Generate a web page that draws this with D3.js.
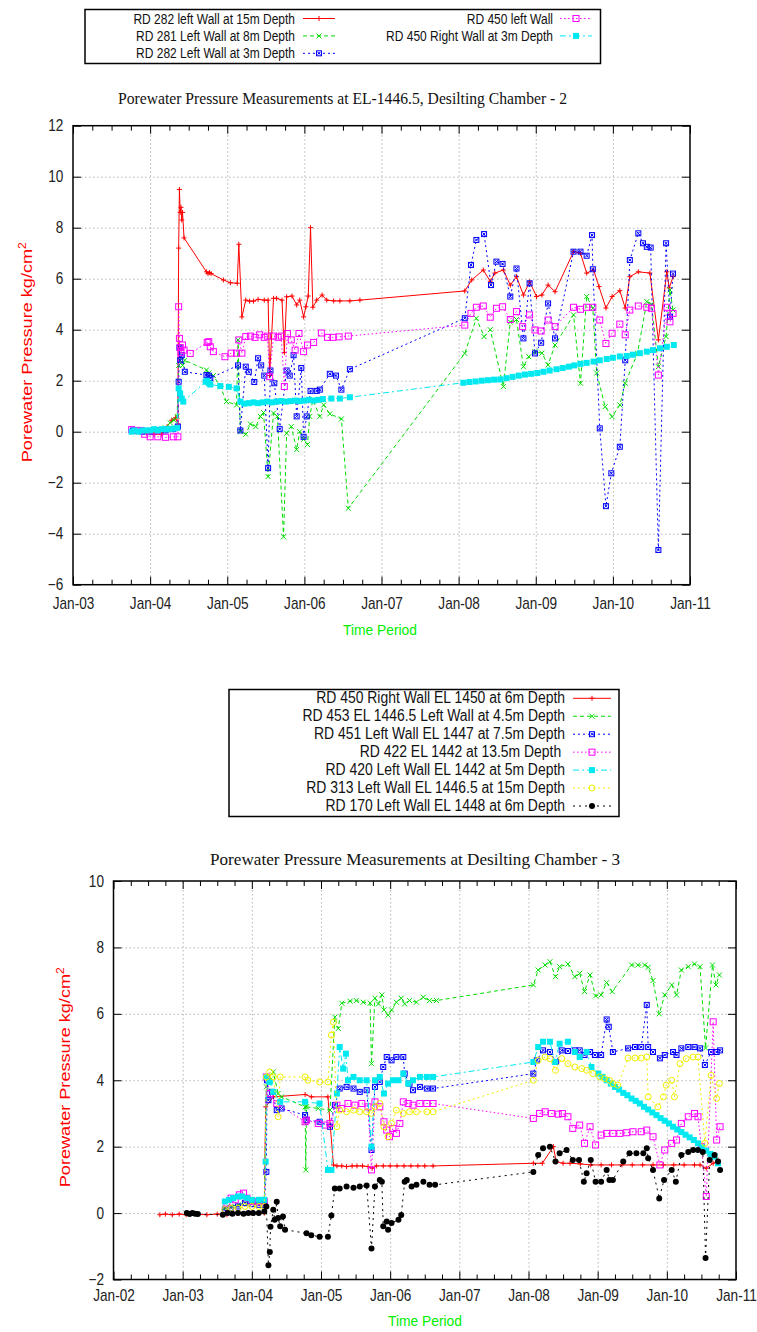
<!DOCTYPE html>
<html>
<head>
<meta charset="utf-8">
<script src="https://d3js.org/d3.v7.min.js"></script>
<style>
  body { margin: 0; background: #fff; }
  svg { display: block; }
</style>
</head>
<body>
<svg id="chart" width="757" height="1332"></svg>
<script>
// ---- Desilting Chamber 2 (EL-1446.5) : [decimal year, kg/cm2] ----
const c2Years = [2003, 2004, 2005, 2006, 2007, 2008, 2009, 2010, 2011];
const c2XLabels = ["Jan-03", "Jan-04", "Jan-05", "Jan-06", "Jan-07", "Jan-08", "Jan-09", "Jan-10", "Jan-11"];
const c2YTicks = [-6, -4, -2, 0, 2, 4, 6, 8, 10, 12];
const c2Names = ["RD 282 left Wall at 15m Depth", "RD 281 Left Wall at 8m Depth", "RD 282 Left Wall at 3m Depth",
  "RD 450 left Wall", "RD 450 Right Wall at 3m Depth"];

const c2_rd282_15m = [[2003.78,0.05],[2003.85,0],[2003.95,-0.05],[2004.05,-0.1],[2004.15,-0.1],[2004.22,0.2],[2004.28,0.45],[2004.33,0.55],[2004.36,0.3],
  [2004.37,7.2],[2004.38,9.5],[2004.39,8.6],[2004.40,8.8],[2004.41,8.3],[2004.42,8.6],[2004.44,7.6],
  [2004.73,6.27],[2004.75,6.2],[2004.77,6.24],[2004.79,6.2],[2004.95,5.95],[2005.04,5.84],[2005.13,5.82],[2005.15,7.35],[2005.19,4.5],
  [2005.24,5.16],[2005.29,5.12],[2005.34,5.12],[2005.40,5.19],[2005.48,5.16],[2005.53,5.16],[2005.55,2.2],[2005.60,5.23],[2005.64,5.23],
  [2005.71,5.16],[2005.74,3.1],[2005.77,5.29],[2005.84,5.32],[2005.90,4.97],[2005.94,5.16],[2005.99,4.5],[2006.02,4.9],[2006.05,5.32],
  [2006.08,8.0],[2006.11,4.88],[2006.16,5.16],[2006.23,5.36],[2006.29,5.16],[2006.38,5.13],[2006.46,5.13],[2006.59,5.13],[2006.72,5.16],
  [2008.08,5.52],[2008.17,5.95],[2008.32,6.34],[2008.41,5.9],[2008.47,6.22],[2008.58,6.34],[2008.67,5.75],[2008.75,6.08],[2008.84,5.36],
  [2008.92,5.88],[2009.01,5.3],[2009.08,5.36],[2009.16,5.75],[2009.25,5.49],[2009.49,7.06],[2009.58,7.0],[2009.66,6.22],[2009.75,6.34],
  [2009.82,5.69],[2009.91,4.85],[2009.99,5.3],[2010.09,5.53],[2010.16,4.85],[2010.22,6.08],[2010.33,6.27],[2010.48,6.22],[2010.59,3.6],
  [2010.70,6.27],[2010.73,5.64],[2010.78,6.08]];

const c2_rd281_8m = [[2003.78,0],[2003.9,0.05],[2004.0,0],[2004.1,0.05],[2004.2,0.15],[2004.26,0.35],[2004.31,0.45],[2004.35,0.6],
  [2004.37,2.6],[2004.39,2.8],[2004.42,2.6],[2004.45,2.8],[2004.73,2.42],[2004.76,2.3],[2004.82,2.2],[2004.91,1.76],[2004.99,1.18],
  [2005.12,1.05],[2005.14,3.6],[2005.17,0],[2005.24,-0.1],[2005.30,0.3],[2005.37,0.2],[2005.43,0.6],[2005.47,0.75],[2005.53,-1.76],
  [2005.60,0.73],[2005.65,0.6],[2005.73,-4.12],[2005.77,-0.06],[2005.83,0.2],[2005.90,-0.7],[2005.94,0],[2005.99,-0.3],[2006.04,-0.5],
  [2006.07,0.6],[2006.11,1.25],[2006.20,0.6],[2006.25,1.05],[2006.33,0.7],[2006.48,0.5],[2006.57,-3.0],
  [2008.08,3.07],[2008.23,4.45],[2008.33,3.73],[2008.41,4.0],[2008.58,1.77],[2008.67,4.3],[2008.75,4.4],[2008.84,2.55],[2008.91,2.94],
  [2008.99,3.14],[2009.08,3.08],[2009.16,2.62],[2009.25,3.4],[2009.49,4.58],[2009.58,1.9],[2009.66,5.3],[2009.74,4.84],[2009.79,2.3],
  [2009.90,0.98],[2009.99,0.59],[2010.09,1.05],[2010.16,1.9],[2010.32,3.08],[2010.44,5.1],[2010.50,5.0],[2010.59,2.55],[2010.69,3.73],
  [2010.74,5.56],[2010.78,4.77]];

const c2_rd282_3m = [[2003.78,0.05],[2003.9,0],[2004.0,0],[2004.1,0.05],[2004.2,0.05],[2004.3,0.1],[2004.36,0.2],
  [2004.37,1.96],[2004.38,3.3],[2004.39,2.8],[2004.41,3.0],[2004.45,2.35],[2004.73,2.22],[2004.76,2.2],[2004.78,2.1],[2005.14,2.6],
  [2005.17,0.05],[2005.24,2.55],[2005.28,2.35],[2005.35,1.95],[2005.40,2.88],[2005.44,2.6],[2005.48,2.2],[2005.53,-1.43],[2005.56,2.4],
  [2005.61,1.9],[2005.68,0.1],[2005.77,2.4],[2005.81,2.2],[2005.86,3.0],[2005.90,0.6],[2005.96,2.5],[2005.99,-0.2],[2006.03,0.6],
  [2006.08,1.6],[2006.16,1.6],[2006.20,1.65],[2006.33,2.27],[2006.41,2.2],[2006.48,1.65],[2006.59,2.45],
  [2008.08,4.45],[2008.16,6.54],[2008.23,7.52],[2008.33,7.75],[2008.42,5.75],[2008.49,6.67],[2008.57,6.58],[2008.67,5.3],[2008.75,6.4],
  [2008.84,3.66],[2008.92,5.82],[2008.99,3.07],[2009.07,3.49],[2009.16,5.03],[2009.25,3.66],[2009.49,7.06],[2009.58,7.06],[2009.66,6.9],
  [2009.73,7.71],[2009.74,6.37],[2009.83,0.13],[2009.91,-2.92],[2009.98,-1.63],[2010.09,-0.59],[2010.16,2.8],[2010.22,6.73],[2010.33,7.78],
  [2010.39,7.39],[2010.44,7.25],[2010.49,7.22],[2010.59,-4.64],[2010.69,7.39],[2010.74,4.51],[2010.78,6.2]];

const c2_rd450_left = [[2003.76,0.08],[2003.82,0.05],[2003.88,0.05],[2003.93,-0.1],[2004.0,-0.2],[2004.1,-0.2],[2004.2,-0.22],[2004.3,-0.2],[2004.36,-0.2],
  [2004.37,4.9],[2004.38,3.66],[2004.39,3.3],[2004.40,3.1],[2004.42,3.4],[2004.44,3.2],[2004.52,3.07],[2004.74,3.5],[2004.76,3.53],
  [2004.78,3.33],[2004.82,3.14],[2004.97,2.94],[2005.05,3.08],[2005.12,3.08],[2005.15,3.6],[2005.19,3.08],[2005.24,3.73],[2005.30,3.75],
  [2005.36,3.7],[2005.42,3.8],[2005.48,3.7],[2005.52,3.75],[2005.55,2.16],[2005.60,3.75],[2005.66,3.7],[2005.70,3.75],[2005.74,1.77],
  [2005.78,3.85],[2005.83,3.6],[2005.88,3.2],[2005.93,3.85],[2005.99,3.14],[2006.04,3.4],[2006.12,3.5],[2006.22,3.87],[2006.30,3.7],
  [2006.37,3.7],[2006.45,3.72],[2006.57,3.75],
  [2008.08,4.18],[2008.16,4.64],[2008.23,4.88],[2008.32,4.93],[2008.41,4.49],[2008.49,4.84],[2008.57,4.9],[2008.67,4.4],[2008.75,4.71],
  [2008.83,4.12],[2008.92,4.58],[2008.99,3.99],[2009.07,3.95],[2009.16,4.38],[2009.25,4.12],[2009.49,4.88],[2009.58,4.8],[2009.66,4.88],
  [2009.74,4.88],[2009.83,4.38],[2009.91,3.46],[2009.99,3.86],[2010.09,4.22],[2010.16,3.8],[2010.22,4.77],[2010.33,4.93],[2010.44,4.88],
  [2010.50,4.84],[2010.59,2.22],[2010.70,4.88],[2010.74,4.31],[2010.78,4.64]];

const c2_rd450_right3m = [[2003.76,0],[2003.80,0.05],[2003.85,0],[2003.90,0.05],[2003.95,0.05],[2004.0,0.05],[2004.05,0.1],[2004.1,0.05],
  [2004.15,0.1],[2004.2,0.1],[2004.25,0.1],[2004.3,0.12],[2004.35,0.15],
  [2004.37,1.7],[2004.39,1.5],[2004.41,1.3],[2004.43,1.18],[2004.72,1.96],[2004.74,2.0],[2004.76,1.9],[2004.78,1.85],[2004.91,1.79],
  [2005.02,1.76],[2005.12,1.7],[2005.17,1.18],[2005.22,1.1],[2005.28,1.12],[2005.34,1.15],[2005.40,1.12],[2005.46,1.15],[2005.52,1.18],
  [2005.58,1.15],[2005.64,1.18],[2005.70,1.2],[2005.76,1.18],[2005.82,1.2],[2005.88,1.22],[2005.94,1.2],[2006.0,1.22],[2006.06,1.25],
  [2006.12,1.22],[2006.18,1.25],[2006.24,1.28],[2006.35,1.3],[2006.46,1.3],[2006.59,1.35],
  [2008.06,1.92],[2008.14,1.95],[2008.22,1.97],[2008.30,2.0],[2008.38,2.02],[2008.46,2.04],[2008.54,2.05],[2008.62,2.1],[2008.70,2.15],
  [2008.78,2.2],[2008.86,2.24],[2008.94,2.27],[2009.02,2.3],[2009.10,2.35],[2009.18,2.4],[2009.27,2.45],[2009.35,2.5],[2009.43,2.55],
  [2009.50,2.6],[2009.58,2.66],[2009.66,2.7],[2009.75,2.75],[2009.83,2.8],[2009.92,2.85],[2010.0,2.9],[2010.09,2.95],[2010.18,2.97],
  [2010.26,3.02],[2010.35,3.08],[2010.44,3.14],[2010.52,3.2],[2010.61,3.27],[2010.70,3.33],[2010.79,3.4]];

// ---- Desilting Chamber 3 ----
const c3Years = [2002, 2003, 2004, 2005, 2006, 2007, 2008, 2009, 2010, 2011];
const c3XLabels = ["Jan-02", "Jan-03", "Jan-04", "Jan-05", "Jan-06", "Jan-07", "Jan-08", "Jan-09", "Jan-10", "Jan-11"];
const c3YTicks = [-2, 0, 2, 4, 6, 8, 10];
const c3Names = ["RD 450 Right Wall EL 1450 at 6m Depth", "RD 453 EL 1446.5 Left Wall at 4.5m Depth",
  "RD 451 Left Wall EL 1447 at 7.5m Depth", "RD 422 EL 1442 at 13.5m Depth\u00a0", "RD 420 Left Wall EL 1442 at 5m Depth",
  "RD 313 Left Wall EL 1446.5 at 15m Depth", "RD 170 Left Wall EL 1448 at 6m Depth"];

const c3_rd450 = [[2002.67,-0.05],[2002.75,-0.03],[2002.85,-0.05],[2002.95,-0.03],[2003.05,-0.05],[2003.2,-0.03],[2003.35,-0.05],[2003.5,-0.03],
  [2003.64,-0.05],[2003.8,0],[2004.0,0],[2004.18,0],
  [2004.20,3.2],[2004.31,3.5],[2004.77,3.57],[2004.86,3.5],[2005.10,3.5],[2005.18,1.45],[2005.23,1.42],[2005.3,1.42],[2005.37,1.4],
  [2005.45,1.42],[2005.52,1.42],[2005.6,1.42],[2005.68,1.4],[2005.74,1.35],[2005.8,1.42],[2005.9,1.42],[2006.0,1.42],[2006.1,1.42],
  [2006.2,1.42],[2006.3,1.42],[2006.4,1.42],[2006.5,1.42],[2006.62,1.42],
  [2008.07,1.5],[2008.2,1.5],[2008.36,2.0],[2008.40,1.55],[2008.5,1.5],[2008.6,1.5],[2008.75,1.48],[2008.9,1.45],[2009.05,1.45],
  [2009.2,1.45],[2009.35,1.45],[2009.5,1.45],[2009.65,1.45],[2009.8,1.45],[2009.95,1.45],[2010.1,1.45],[2010.25,1.45],[2010.4,1.45],
  [2010.48,1.45],[2010.57,1.35],[2010.67,1.5],[2010.74,1.6]];

const c3_rd453 = [[2003.61,0.15],[2003.7,0.2],[2003.8,0.25],[2003.9,0.3],[2004.0,0.3],[2004.1,0.3],[2004.18,0.35],
  [2004.21,3.8],[2004.26,4.0],[2004.31,4.25],[2004.38,3.6],[2004.43,3.5],[2004.77,3.2],[2004.78,1.3],[2004.79,3.2],[2004.96,3.15],
  [2005.13,3.1],[2005.20,5.9],[2005.25,5.56],[2005.30,6.32],[2005.42,6.38],[2005.51,6.4],[2005.61,6.35],[2005.71,6.32],[2005.73,4.5],
  [2005.78,6.47],[2005.83,6.3],[2005.88,6.57],[2005.91,6.12],[2005.97,5.96],[2006.02,6.12],[2006.09,6.35],[2006.16,6.47],[2006.21,6.3],
  [2006.28,6.4],[2006.38,6.35],[2006.48,6.5],[2006.57,6.4],[2006.67,6.4],
  [2008.07,6.87],[2008.14,7.32],[2008.24,7.47],[2008.31,7.57],[2008.39,7.12],[2008.45,7.42],[2008.57,7.5],[2008.67,7.12],[2008.74,7.22],
  [2008.81,6.67],[2008.89,7.17],[2008.97,6.54],[2009.05,6.57],[2009.13,6.94],[2009.21,6.67],[2009.49,7.47],[2009.58,7.47],[2009.68,7.47],
  [2009.73,7.4],[2009.80,7.0],[2009.89,6.0],[2009.97,6.57],[2010.07,6.87],[2010.14,6.57],[2010.21,7.32],[2010.31,7.42],[2010.40,7.5],
  [2010.48,7.42],[2010.56,4.97],[2010.66,7.47],[2010.71,6.87],[2010.76,7.17]];

const c3_rd451 = [[2003.61,0.1],[2003.7,0.15],[2003.8,0.2],[2003.9,0.3],[2004.0,0.27],[2004.1,0.25],[2004.18,0.25],
  [2004.21,1.24],[2004.22,4.0],[2004.24,3.4],[2004.29,3.65],[2004.36,3.1],[2004.43,3.15],[2004.77,2.95],[2004.79,2.8],[2004.98,2.75],
  [2005.13,2.6],[2005.20,3.25],[2005.27,3.75],[2005.37,3.8],[2005.47,3.75],[2005.56,3.65],[2005.66,3.7],[2005.73,1.9],[2005.78,3.8],
  [2005.85,3.95],[2005.90,4.4],[2005.95,4.7],[2006.02,4.6],[2006.09,4.7],[2006.19,4.7],[2006.21,4.2],[2006.28,3.9],[2006.33,3.7],
  [2006.43,3.8],[2006.53,3.75],[2006.62,3.75],
  [2008.07,4.2],[2008.12,4.6],[2008.21,4.9],[2008.31,4.85],[2008.40,4.55],[2008.48,4.9],[2008.57,4.88],[2008.67,4.9],[2008.74,4.9],
  [2008.81,4.76],[2008.89,4.85],[2008.96,4.76],[2009.05,4.76],[2009.13,5.83],[2009.16,5.61],[2009.22,4.85],[2009.44,4.96],[2009.54,5.0],
  [2009.63,5.0],[2009.71,6.27],[2009.73,5.0],[2009.80,4.85],[2009.90,4.66],[2009.97,4.76],[2010.09,4.85],[2010.14,4.76],[2010.21,4.96],
  [2010.31,5.0],[2010.40,5.0],[2010.48,4.96],[2010.55,4.46],[2010.64,4.85],[2010.72,4.85],[2010.77,4.9]];

const c3_rd422 = [[2003.64,0.3],[2003.7,0.45],[2003.76,0.4],[2003.82,0.55],[2003.88,0.6],[2003.93,0.45],[2004.0,0.35],[2004.1,0.35],[2004.18,0.35],
  [2004.21,4.1],[2004.26,3.6],[2004.36,3.3],[2004.77,2.75],[2004.79,2.8],[2004.96,2.7],[2005.06,2.65],[2005.13,2.7],[2005.23,3.25],
  [2005.30,3.15],[2005.39,3.3],[2005.49,3.25],[2005.59,3.3],[2005.68,3.2],[2005.73,1.3],[2005.78,3.35],[2005.85,3.2],[2005.91,2.75],
  [2005.95,2.5],[2005.99,2.3],[2006.04,2.55],[2006.09,2.4],[2006.14,2.7],[2006.19,3.35],[2006.26,3.3],[2006.33,3.25],[2006.43,3.3],
  [2006.53,3.3],[2006.62,3.3],
  [2008.07,2.85],[2008.16,3.0],[2008.24,3.05],[2008.33,3.0],[2008.43,2.98],[2008.49,3.0],[2008.57,2.9],[2008.64,2.55],[2008.74,2.65],
  [2008.81,2.1],[2008.89,2.6],[2008.97,2.05],[2009.05,2.35],[2009.13,2.4],[2009.22,2.4],[2009.32,2.4],[2009.42,2.42],[2009.51,2.45],
  [2009.63,2.45],[2009.71,2.5],[2009.80,2.3],[2009.90,1.45],[2009.97,1.9],[2010.07,2.1],[2010.14,2.2],[2010.21,2.7],[2010.31,2.9],
  [2010.40,3.0],[2010.45,2.9],[2010.50,2.0],[2010.57,0.5],[2010.67,5.76],[2010.72,2.2],[2010.77,2.6]];

const c3_rd420 = [[2003.61,0.35],[2003.67,0.4],[2003.73,0.45],[2003.8,0.5],[2003.86,0.5],[2003.93,0.45],[2004.0,0.4],[2004.1,0.4],[2004.18,0.4],
  [2004.20,1.55],[2004.21,4.1],[2004.26,3.95],[2004.31,3.65],[2004.41,3.35],[2004.77,3.35],[2004.98,3.3],[2005.10,1.3],[2005.15,1.3],
  [2005.23,3.6],[2005.27,5.0],[2005.32,4.35],[2005.36,4.8],[2005.39,4.0],[2005.47,4.1],[2005.56,4.0],[2005.66,4.0],[2005.73,2.0],
  [2005.78,4.0],[2005.85,4.1],[2005.91,3.6],[2005.97,3.9],[2006.04,4.0],[2006.12,4.0],[2006.19,4.2],[2006.26,3.9],[2006.33,4.0],
  [2006.43,4.1],[2006.53,4.1],[2006.62,4.1],
  [2008.07,4.55],[2008.14,5.0],[2008.21,5.16],[2008.31,5.16],[2008.38,4.55],[2008.45,5.1],[2008.57,5.16],[2008.67,4.85],[2008.74,4.7],
  [2008.84,4.85],[2008.91,4.4],[2009.01,4.2],[2009.07,4.1],[2009.13,4.0],[2009.19,3.9],[2009.25,3.8],[2009.31,3.72],[2009.37,3.62],
  [2009.43,3.55],[2009.49,3.45],[2009.55,3.38],[2009.61,3.3],[2009.67,3.2],[2009.73,3.12],[2009.79,3.03],[2009.85,2.95],[2009.91,2.86],
  [2009.97,2.78],[2010.03,2.7],[2010.09,2.6],[2010.15,2.52],[2010.21,2.44],[2010.27,2.36],[2010.33,2.28],[2010.39,2.2],[2010.45,2.1],
  [2010.51,1.98],[2010.57,1.88],[2010.63,1.78],[2010.69,1.7],[2010.74,1.5]];

const c3_rd313 = [[2003.61,0.1],[2003.7,0.15],[2003.8,0.15],[2003.9,0.2],[2004.0,0.2],[2004.1,0.2],[2004.18,0.2],
  [2004.21,4.1],[2004.26,4.25],[2004.31,4.1],[2004.38,2.9],[2004.41,4.1],[2004.77,4.1],[2004.81,4.0],[2004.98,3.95],[2005.10,3.95],
  [2005.15,5.36],[2005.18,5.75],[2005.23,2.6],[2005.27,3.1],[2005.37,3.05],[2005.47,3.1],[2005.56,3.05],[2005.66,3.05],[2005.73,3.0],
  [2005.78,3.2],[2005.85,3.3],[2005.91,2.6],[2005.97,2.3],[2006.02,2.7],[2006.09,3.1],[2006.19,3.0],[2006.28,3.05],[2006.38,3.05],
  [2006.53,3.05],[2006.62,3.05],
  [2008.07,4.0],[2008.14,4.6],[2008.24,4.7],[2008.31,4.65],[2008.39,4.3],[2008.48,4.65],[2008.57,4.5],[2008.67,4.4],[2008.77,4.35],
  [2008.84,4.3],[2008.93,4.2],[2009.03,4.1],[2009.10,4.05],[2009.17,4.0],[2009.22,3.9],[2009.29,3.85],[2009.44,4.67],[2009.54,4.67],
  [2009.63,4.67],[2009.71,4.7],[2009.73,3.5],[2009.87,3.2],[2009.95,3.5],[2009.99,3.85],[2010.07,4.0],[2010.11,3.5],[2010.19,4.5],
  [2010.28,4.65],[2010.38,4.7],[2010.45,4.7],[2010.55,2.1],[2010.64,4.15],[2010.72,3.45],[2010.76,3.9]];

const c3_rd170 = [[2003.06,0],[2003.1,-0.03],[2003.14,0],[2003.18,-0.02],[2003.22,-0.03],
  [2003.58,-0.05],[2003.65,0],[2003.72,-0.02],[2003.8,0],[2003.88,-0.02],[2003.95,0],[2004.02,0],[2004.1,0],[2004.18,0.05],
  [2004.21,0.2],[2004.24,-1.57],[2004.26,-1.17],[2004.27,-0.41],[2004.31,0.1],[2004.33,-0.2],[2004.36,0.34],[2004.38,-0.15],[2004.41,-0.4],
  [2004.45,-0.1],[2004.48,-0.5],[2004.79,-0.61],[2004.86,-0.67],[2004.98,-0.71],[2005.10,-0.71],[2005.15,-0.07],[2005.20,0.74],
  [2005.27,0.74],[2005.37,0.8],[2005.47,0.76],[2005.56,0.8],[2005.66,0.83],[2005.73,-1.07],[2005.78,0.8],[2005.85,1.0],[2005.88,0.94],
  [2005.90,-0.4],[2005.95,-0.25],[2005.97,-0.5],[2006.02,-0.3],[2006.12,-0.2],[2006.16,-0.06],[2006.21,0.94],[2006.24,1.0],[2006.31,0.8],
  [2006.38,0.85],[2006.48,0.94],[2006.57,0.85],[2006.65,0.85],
  [2008.07,1.24],[2008.14,1.75],[2008.21,1.95],[2008.31,2.0],[2008.39,1.55],[2008.45,1.8],[2008.55,1.9],[2008.64,1.6],[2008.73,1.6],
  [2008.80,0.94],[2008.84,1.2],[2008.90,1.6],[2008.97,0.94],[2009.05,0.94],[2009.13,1.3],[2009.17,1.0],[2009.22,1.0],[2009.37,1.55],
  [2009.46,1.8],[2009.56,1.8],[2009.66,1.8],[2009.71,1.95],[2009.73,1.65],[2009.80,1.3],[2009.89,0.44],[2009.96,1.0],[2010.07,1.3],
  [2010.13,0.94],[2010.21,1.75],[2010.31,1.84],[2010.38,1.9],[2010.45,1.9],[2010.52,1.84],[2010.56,-1.35],[2010.62,1.6],[2010.69,1.75],
  [2010.74,1.55],[2010.77,1.3]];

const sansFont = "'Liberation Sans', Arial, Helvetica, sans-serif";
const serifFont = "'Liberation Serif', 'Times New Roman', serif";
const svg = d3.select("#chart");
svg.append("rect").attr("width", 757).attr("height", 1332).attr("fill", "#fff");

// gnuplot-like line/point styles
const styles = [
  { color: "#ff0000", dash: null,        mark: "plus" },
  { color: "#00dd00", dash: "4,3",       mark: "cross" },
  { color: "#0000ff", dash: "2,3",       mark: "boxstar" },
  { color: "#ff00ff", dash: "1.5,2.5",   mark: "square" },
  { color: "#00e8f0", dash: "6,3,2,3",   mark: "fsquare" },
  { color: "#f0f000", dash: "2,3",       mark: "circle" },
  { color: "#000000", dash: "2,4",       mark: "fcircle" }
];

function drawMark(g, px, py, mark, color) {
  const s = 2.5;
  if (mark === "plus") {
    g.append("path").attr("d", `M${px - s},${py}H${px + s}M${px},${py - s}V${py + s}`).attr("stroke", color).attr("stroke-width", 1);
  } else if (mark === "cross") {
    g.append("path").attr("d", `M${px - s},${py - s}L${px + s},${py + s}M${px - s},${py + s}L${px + s},${py - s}`).attr("stroke", color).attr("stroke-width", 1);
  } else if (mark === "boxstar") {
    g.append("rect").attr("x", px - 2.5).attr("y", py - 2.5).attr("width", 5).attr("height", 5)
      .attr("fill", "none").attr("stroke", color).attr("stroke-width", 1);
    g.append("path").attr("d", `M${px - 1.5},${py - 1.5}L${px + 1.5},${py + 1.5}M${px - 1.5},${py + 1.5}L${px + 1.5},${py - 1.5}`).attr("stroke", color).attr("stroke-width", 1);
  } else if (mark === "square") {
    g.append("rect").attr("x", px - 3).attr("y", py - 3).attr("width", 6).attr("height", 6)
      .attr("fill", "none").attr("stroke", color).attr("stroke-width", 1);
  } else if (mark === "fsquare") {
    g.append("rect").attr("x", px - 3).attr("y", py - 3).attr("width", 6).attr("height", 6).attr("fill", color);
  } else if (mark === "circle") {
    g.append("circle").attr("cx", px).attr("cy", py).attr("r", 3).attr("fill", "none").attr("stroke", color).attr("stroke-width", 1);
  } else if (mark === "fcircle") {
    g.append("circle").attr("cx", px).attr("cy", py).attr("r", 3).attr("fill", color);
  }
}

function drawPanel(p) {
  const x = d3.scaleLinear().domain([p.years[0], p.years[p.years.length - 1]]).range([p.left, p.right]);
  const y = d3.scaleLinear().domain([p.yTicks[0], p.yTicks[p.yTicks.length - 1]]).range([p.bottom, p.top]);
  const w = p.right - p.left, h = p.bottom - p.top;
  const g = svg.append("g");

  // dotted grid
  const grid = g.append("g");
  grid.append("g").attr("transform", `translate(0,${p.bottom})`)
    .call(d3.axisBottom(x).tickValues(p.years.slice(1, -1)).tickSize(-h).tickFormat(""));
  grid.append("g").attr("transform", `translate(${p.left},0)`)
    .call(d3.axisLeft(y).tickValues(p.yTicks.slice(1, -1)).tickSize(-w).tickFormat(""));
  grid.selectAll(".domain").remove();
  grid.selectAll("line").attr("stroke", "#b4b4b4").attr("stroke-dasharray", "1.5,2.5");

  // series
  const line = d3.line().x(d => x(d[0])).y(d => y(d[1]));
  p.series.forEach((data, i) => {
    const st = styles[i];
    g.append("path").attr("d", line(data)).attr("fill", "none")
      .attr("stroke", st.color).attr("stroke-width", 1).attr("stroke-dasharray", st.dash);
    const mg = g.append("g");
    data.forEach(d => drawMark(mg, x(d[0]), y(d[1]), st.mark, st.color));
  });

  // axes: inward ticks on all four sides
  const quarters = [];
  p.years.slice(0, -1).forEach(yr => quarters.push(yr + 0.25, yr + 0.5, yr + 0.75));
  const ax = g.append("g");
  ax.append("g").attr("transform", `translate(0,${p.bottom})`)
    .call(d3.axisBottom(x).tickValues(p.years).tickFormat(d => p.xLabels[p.years.indexOf(d)]).tickSize(-8).tickPadding(p.xPad));
  ax.append("g").attr("transform", `translate(0,${p.bottom})`)
    .call(d3.axisBottom(x).tickValues(quarters).tickFormat("").tickSize(-5));
  ax.append("g").attr("transform", `translate(0,${p.top})`)
    .call(d3.axisTop(x).tickValues(p.years).tickFormat("").tickSize(-8));
  ax.append("g").attr("transform", `translate(0,${p.top})`)
    .call(d3.axisTop(x).tickValues(quarters).tickFormat("").tickSize(-5));
  ax.append("g").attr("transform", `translate(${p.left},0)`)
    .call(d3.axisLeft(y).tickValues(p.yTicks).tickSize(-8).tickPadding(p.yPad));
  ax.append("g").attr("transform", `translate(${p.right},0)`)
    .call(d3.axisRight(y).tickValues(p.yTicks).tickFormat("").tickSize(-8));
  ax.selectAll(".domain").remove();
  ax.selectAll("line").attr("stroke", "#000").attr("stroke-width", 1);
  ax.selectAll("text").attr("font-size", 16).attr("font-family", sansFont).attr("fill", "#222")
    .attr("transform", "scale(0.85,1)");

  g.append("rect").attr("x", p.left).attr("y", p.top).attr("width", w).attr("height", h)
    .attr("fill", "none").attr("stroke", "#000").attr("stroke-width", 1.5);

  // title and axis labels
  svg.append("text").attr("x", p.titleX).attr("y", p.titleY).attr("text-anchor", "middle")
    .attr("font-family", serifFont).attr("font-size", 17).attr("fill", "#111")
    .attr("textLength", p.titleLen).attr("lengthAdjust", "spacingAndGlyphs").text(p.title);

  const yl = svg.append("text").attr("transform", `translate(${p.yLabelX},${(p.top + p.bottom) / 2 - 3}) rotate(-90)`)
    .attr("text-anchor", "middle").attr("font-family", sansFont).attr("font-size", 15).attr("fill", "#ff0000")
    .attr("textLength", 220).attr("lengthAdjust", "spacingAndGlyphs");
  yl.append("tspan").text("Porewater Pressure kg/cm");
  yl.append("tspan").attr("dy", -6).attr("font-size", 10).text("2");

  svg.append("text").attr("x", p.xLabelX).attr("y", p.xLabelY).attr("text-anchor", "middle")
    .attr("font-family", sansFont).attr("font-size", 15).attr("fill", "#00ee00")
    .attr("textLength", 74).attr("lengthAdjust", "spacingAndGlyphs").text("Time Period");
}

function drawLegend(lg) {
  svg.append("rect").attr("x", lg.x).attr("y", lg.y).attr("width", lg.w).attr("height", lg.h)
    .attr("fill", "#fff").attr("stroke", "#000").attr("stroke-width", 1.5);
  lg.names.forEach((name, i) => {
    const col = lg.cols[Math.floor(i / lg.perCol)];
    const row = i % lg.perCol;
    const cy = lg.row0 + row * lg.rowStep;
    const st = styles[i];
    svg.append("text").attr("transform", `translate(${col.tx},${cy + 5}) scale(${lg.sx},1)`)
      .attr("text-anchor", "end").attr("font-family", sansFont).attr("font-size", lg.fs).attr("fill", "#111")
      .style("white-space", "pre").text(name);
    svg.append("line").attr("x1", col.s0).attr("x2", col.s1).attr("y1", cy).attr("y2", cy)
      .attr("stroke", st.color).attr("stroke-width", 1).attr("stroke-dasharray", st.dash);
    drawMark(svg.append("g"), (col.s0 + col.s1) / 2, cy, st.mark, st.color);
  });
}

drawLegend({ x: 85, y: 9.5, w: 515.5, h: 54, names: c2Names, perCol: 3, row0: 18.5, rowStep: 17.4, fs: 15, sx: 0.8,
  cols: [{ tx: 295, s0: 303, s1: 335 }, { tx: 553, s0: 560, s1: 592 }] });

drawPanel({ left: 73, right: 690, top: 125.7, bottom: 584.7, years: c2Years, xLabels: c2XLabels, yTicks: c2YTicks,
  series: [c2_rd282_15m, c2_rd281_8m, c2_rd282_3m, c2_rd450_left, c2_rd450_right3m],
  xPad: 13, yPad: 11.4, title: "Porewater Pressure Measurements at EL-1446.5, Desilting Chamber - 2",
  titleX: 342.5, titleY: 104, titleLen: 449, yLabelX: 32, xLabelX: 380, xLabelY: 635 });

drawLegend({ x: 229, y: 689.5, w: 390, h: 127, names: c3Names, perCol: 7, row0: 698.3, rowStep: 17.95, fs: 16, sx: 0.87,
  cols: [{ tx: 565, s0: 573, s1: 611 }] });

drawPanel({ left: 113.5, right: 736, top: 881, bottom: 1279.5, years: c3Years, xLabels: c3XLabels, yTicks: c3YTicks,
  series: [c3_rd450, c3_rd453, c3_rd451, c3_rd422, c3_rd420, c3_rd313, c3_rd170],
  xPad: 10.5, yPad: 11.2, title: "Porewater Pressure Measurements at Desilting Chamber - 3",
  titleX: 415, titleY: 865, titleLen: 410, yLabelX: 70, xLabelX: 425, xLabelY: 1326 });
</script>
</body>
</html>
